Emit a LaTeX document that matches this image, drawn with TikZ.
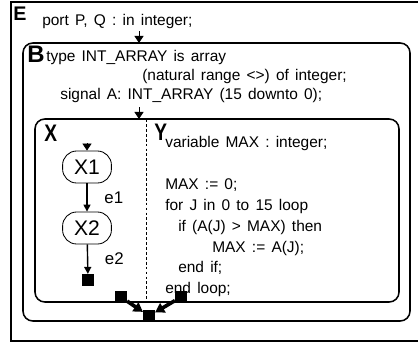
\documentclass[tikz,border=0pt]{standalone}
\usepackage{fontspec}
\setmainfont{Liberation Sans}
\usetikzlibrary{arrows.meta,positioning}

\begin{document}
\begin{tikzpicture}[x=0.025cm,y=-0.025cm,
        box/.style={line width=1.1pt, rounded corners=7pt},
        big/.style={font=\fontsize{17}{17}\selectfont\bfseries, inner sep=0pt, anchor=base west},
        code/.style={font=\fontsize{11}{13}\selectfont, inner sep=0pt, anchor=base west,
            execute at begin node={\spaceskip=0.4em\relax}},
        state/.style={draw, line width=0.6pt, rounded corners=10pt, minimum width=1.22cm, minimum height=0.8cm,
            inner sep=0pt, font=\fontsize{15}{15}\selectfont},
        term/.style={fill, minimum size=0.29cm, inner sep=0pt},
        entry/.style={-{Triangle[length=5pt,width=6.5pt]}, line width=0.6pt},
        trans/.style={-{Triangle[length=5pt,width=5pt]}, line width=1pt},
        merge/.style={-{Triangle[length=6.5pt,width=7.5pt]}, line width=2.6pt}]
    \useasboundingbox (0,0) rectangle (418,344);

    % entity E
    \draw[line width=1.1pt] (11,2) rectangle (426,341);
    \node[big, font=\fontsize{14}{14}\selectfont\bfseries] (lblE) at (13,20) {E};
    \node[code] (port) at (42,25) {port P, Q : in integer;};

    % block B
    \draw[box] (23,43) rectangle (410,321);
    \coordinate (inB) at (139,43);
    \coordinate (portin) at (139,31);
    \draw[entry] (portin) -- (inB);
    \node[big] (lblB) at (27,62) {B};
    \node[code] (typ) at (46,61) {type INT\_ARRAY is array};
    \node[code] (nat) at (142,80) {(natural range <>) of integer;};
    \node[code] (sig) at (60,99) {signal A: INT\_ARRAY (15 downto 0);};

    % processes X and Y
    \draw[box] (35,119) rectangle (399,302);
    \draw[dashed, dash pattern=on 2pt off 1.5pt, line width=0.4pt] (146,119) -- (146,302);
    \coordinate (inX) at (139,119);
    \coordinate (sigin) at (139,107);
    \draw[entry] (sigin) -- (inX);
    \node[big] (lblX) at (44,141) {\scalebox{0.8}[1]{X}};
    \node[big] (lblY) at (154,140) {\scalebox{0.8}[1]{Y}};

    \node[state] (x1) at (87,167) {X1};
    \node[state] (x2) at (87,228) {X2};
    \node[term] (xend) at (88,280) {};
    \coordinate (x0) at (87,143);
    \draw[entry] (x0) -- (x1);
    \draw[trans] (x1) -- node[right=0.3cm, font=\fontsize{12}{12}\selectfont] (e1) {e1} (x2);
    \draw[trans] (x2) -- node[right=0.3cm, font=\fontsize{12}{12}\selectfont] (e2) {e2} (xend);

    \foreach \txt/\dx/\yy [count=\i] in {{variable MAX : integer;}/0/147, {MAX := 0;}/0/189,
            {for J in 0 to 15 loop}/0/210, {if (A(J) > MAX) then}/13/231, {MAX := A(J);}/47/252,
            {end if;}/13/272, {end loop;}/0/293}
        \node[code] (ln\i) at (165+\dx,\yy) {\txt};

    % exits
    \node[term] (xout) at (121,297) {};
    \node[term] (yout) at (181,297) {};
    \node[term] (bout) at (149,316) {};
    \draw[merge] (xout) -- (bout);
    \draw[merge] (yout) -- (bout);
\end{tikzpicture}
\end{document}
